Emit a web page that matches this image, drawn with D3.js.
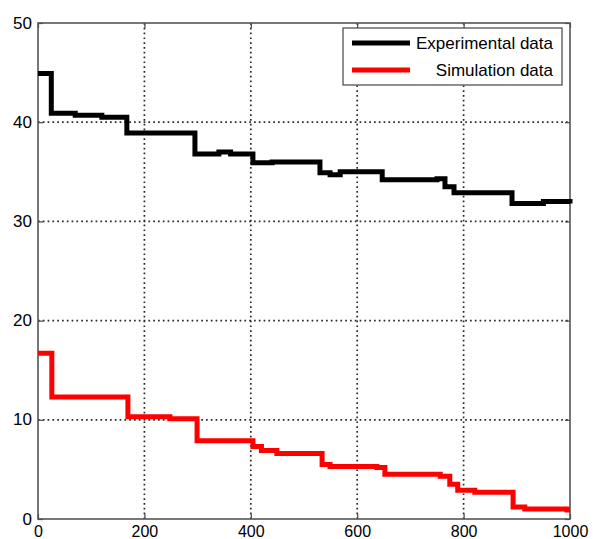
<!DOCTYPE html>
<html>
<head>
<meta charset="utf-8">
<script src="https://cdn.jsdelivr.net/npm/d3@7"></script>
<style>
  html, body { margin: 0; padding: 0; background: #fff; }
  svg { display: block; font-family: "Liberation Sans", Arial, Helvetica, sans-serif; }
</style>
</head>
<body>
<svg id="chart" width="596" height="539"></svg>
<script>
// Step series: each point holds the value from its x onward
const experimentalX = [0, 25, 70, 120, 167, 295, 340, 362, 404, 440, 530, 549, 568, 647, 750, 765, 782, 891, 950, 1000];
const experimentalY = [44.9, 40.9, 40.7, 40.5, 38.9, 36.8, 37.0, 36.8, 35.9, 36.0, 34.9, 34.7, 35.0, 34.2, 34.3, 33.5, 32.9, 31.8, 32.0, 31.8];

const simulationX = [0, 26, 169, 248, 299, 404, 420, 449, 534, 549, 637, 652, 756, 774, 789, 821, 893, 915, 994, 1000];
const simulationY = [16.7, 12.3, 10.3, 10.1, 7.9, 7.3, 6.9, 6.6, 5.5, 5.3, 5.2, 4.5, 4.3, 3.5, 2.9, 2.7, 1.2, 1.0, 0.9, 0.9];

const xTicks = [0, 200, 400, 600, 800, 1000];
const yTicks = [0, 10, 20, 30, 40, 50];

const seriesNames = ["Experimental data", "Simulation data"];
const seriesColors = ["#000000", "#ff0000"];

const svg = d3.select("#chart");
const plotL = 38, plotR = 570, plotT = 23, plotB = 519;

const x = d3.scaleLinear().domain([0, 1000]).range([plotL, plotR]);
const y = d3.scaleLinear().domain([0, 50]).range([plotB, plotT]);

// Dotted grid
const grid = svg.append("g");
grid.selectAll("line.vx").data(xTicks.slice(1, -1)).join("line")
  .attr("x1", d => x(d)).attr("x2", d => x(d))
  .attr("y1", plotT).attr("y2", plotB)
  .attr("stroke", "#2a2a2a").attr("stroke-width", 1.7).attr("stroke-dasharray", "1.7,3.1");
grid.selectAll("line.hy").data(yTicks.slice(1, -1)).join("line")
  .attr("x1", plotL).attr("x2", plotR)
  .attr("y1", d => y(d)).attr("y2", d => y(d))
  .attr("stroke", "#2a2a2a").attr("stroke-width", 1.7).attr("stroke-dasharray", "1.7,3.1");

// Axes with inward ticks
const tickLen = 5;
const fmt = d3.format("d");
const axB = svg.append("g").attr("transform", `translate(0,${plotB})`)
  .call(d3.axisBottom(x).tickValues(xTicks).tickFormat(fmt).tickSizeInner(-tickLen).tickSizeOuter(0).tickPadding(7));
const axL = svg.append("g").attr("transform", `translate(${plotL},0)`)
  .call(d3.axisLeft(y).tickValues(yTicks).tickFormat(fmt).tickSizeInner(-tickLen).tickSizeOuter(0).tickPadding(6));
const axT = svg.append("g").attr("transform", `translate(0,${plotT})`)
  .call(d3.axisTop(x).tickValues(xTicks).tickSizeInner(-tickLen).tickSizeOuter(0).tickFormat(""));
const axR = svg.append("g").attr("transform", `translate(${plotR},0)`)
  .call(d3.axisRight(y).tickValues(yTicks).tickSizeInner(-tickLen).tickSizeOuter(0).tickFormat(""));

[axB, axL, axT, axR].forEach(g => {
  g.select(".domain").remove();
  g.selectAll(".tick line").attr("stroke", "#444").attr("stroke-width", 1.2);
  g.selectAll("text").attr("fill", "#000").attr("font-family", "'Liberation Sans', Arial, sans-serif");
});
axB.selectAll("text").attr("font-size", 16);
axL.selectAll("text").attr("font-size", 17).attr("dy", "0.3em");

// Frame
svg.append("rect")
  .attr("x", plotL).attr("y", plotT)
  .attr("width", plotR - plotL).attr("height", plotB - plotT)
  .attr("fill", "none").attr("stroke", "#555").attr("stroke-width", 1.6);

// Step lines
const line = d3.line().curve(d3.curveStepAfter)
  .x(d => x(d[0])).y(d => y(d[1]));

const series = [
  d3.zip(experimentalX, experimentalY),
  d3.zip(simulationX, simulationY)
];

svg.append("g").selectAll("path").data(series).join("path")
  .attr("d", line)
  .attr("fill", "none")
  .attr("stroke", (d, i) => seriesColors[i])
  .attr("stroke-width", 5)
  .attr("stroke-linejoin", "miter");

// Legend
const lg = svg.append("g");
lg.append("rect")
  .attr("x", 343).attr("y", 28).attr("width", 219).attr("height", 57)
  .attr("fill", "#fff").attr("stroke", "#444").attr("stroke-width", 1.2);
const rows = [43, 70];
seriesNames.forEach((name, i) => {
  lg.append("line")
    .attr("x1", 352).attr("x2", 410)
    .attr("y1", rows[i]).attr("y2", rows[i])
    .attr("stroke", seriesColors[i]).attr("stroke-width", 5);
  lg.append("text")
    .attr("x", 553).attr("y", rows[i] + 6)
    .attr("text-anchor", "end")
    .attr("font-size", 17)
    .attr("fill", "#000")
    .text(name);
});
</script>
</body>
</html>
